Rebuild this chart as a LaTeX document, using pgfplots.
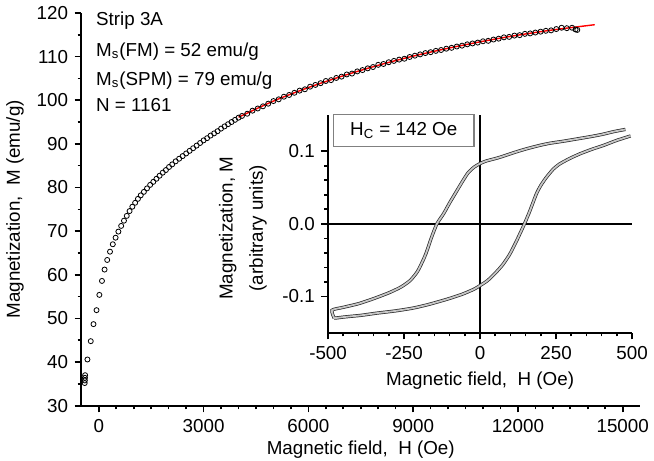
\documentclass[border=0pt]{standalone}
\usepackage{fontspec}
\setmainfont{Liberation Sans}
\usepackage{pgfplots}
\pgfplotsset{compat=1.18}

\begin{document}
\fontsize{9.3}{11}\selectfont
\begin{tikzpicture}[font=\fontsize{9.3}{11}\selectfont]
\pgfplotsset{
  myaxis/.style={
    scale only axis, anchor=south west,
    tick align=outside,
    major tick length=3.3pt, minor tick length=1.8pt,
    axis line style={-, line width=0.9pt, black},
    tick style={black, line width=0.8pt},
    /pgf/number format/assume math mode=true,
    /pgf/number format/set thousands separator={},
    scaled x ticks=false, scaled y ticks=false,
    label style={font=\fontsize{9.3}{11}\selectfont},
  },
}

% main magnetization curve
\begin{axis}[myaxis, axis x line*=bottom, axis y line*=left,
  at={(45.85pt,29pt)}, width=276.65pt, height=194.5pt,
  xmin=-500, xmax=15500, ymin=30, ymax=120,
  xtick={0,3000,...,15000}, ytick={30,40,...,120},
  minor x tick num=5, minor y tick num=1,
  xticklabel style={inner xsep=0pt},
  xlabel={Magnetic field,\ \ H (Oe)},
  xlabel style={inner ysep=1pt},
  ylabel={Magnetization,\ \ M (emu/g)},
  clip=false,
]
\addplot[only marks, mark=o, mark size=1.25pt, black]
  coordinates {
  (-405,35.2)(-400,35.8)(-398,36.4)(-393,37.0)(-326,40.6)(-231,44.8)(-153,48.7)
  (-66,51.9)(15,55.4)(90,58.6)(164,61.2)(240,63.4)(320,65.3)(400,67.0)(480,68.5)
  (560,69.9)(640,71.2)(720,72.4)(800,73.5)(880,74.6)(960,75.6)(1040,76.5)
  (1120,77.4)(1200,78.2)(1290,79.0)(1380,79.8)(1470,80.6)(1560,81.3)(1650,82.0)
  (1740,82.7)(1830,83.4)(1920,84.0)(2010,84.7)(2100,85.3)(2200,86.0)(2300,86.6)
  (2400,87.2)(2500,87.8)(2600,88.4)(2700,89.0)(2800,89.6)(2900,90.2)(3000,90.8)
  (3100,91.3)(3200,91.9)(3300,92.4)(3400,92.9)(3500,93.5)(3600,94.0)(3700,94.5)
  (3800,95.0)(3900,95.5)(4000,96.0)
  (4100,96.4)(4250,96.9)(4400,97.6)(4550,98.1)(4700,98.6)(4850,99.2)(5000,99.8)
  (5150,100.2)(5300,100.8)(5450,101.2)(5600,101.7)(5750,102.2)(5900,102.5)
  (6050,103.1)(6200,103.5)(6350,103.9)(6500,104.4)(6650,104.6)(6800,105.1)
  (6950,105.4)(7100,105.9)(7250,106.1)(7400,106.6)(7550,106.9)(7700,107.3)
  (7850,107.6)(8000,108.1)(8150,108.3)(8300,108.7)(8450,109.0)(8600,109.3)
  (8750,109.5)(8900,109.9)(9050,110.2)(9200,110.5)(9350,110.8)(9500,111.0)
  (9650,111.3)(9800,111.5)(9950,111.8)(10100,112.0)(10250,112.3)(10400,112.5)
  (10550,112.8)(10700,113.0)(10850,113.2)(11000,113.5)(11150,113.6)(11300,113.9)
  (11450,114.1)(11600,114.4)(11750,114.5)(11900,114.8)(12050,114.9)(12200,115.2)
  (12350,115.3)(12500,115.5)(12650,115.7)(12800,115.9)(12950,116.0)(13100,116.3)
  (13250,116.6)(13400,116.5)(13550,116.6)(13650,116.2)(13700,116.1)
  };
\addplot[red, line width=0.7pt, smooth]
  coordinates {
  (4000,96.1)(5000,99.8)(6000,102.9)(7000,105.6)(8000,108.0)(9000,110.1)
  (10000,111.9)(11000,113.5)(12000,114.9)(13000,116.1)(14000,117.1)(14200,117.3)
  };
\end{axis}

% inset hysteresis loop
\begin{axis}[myaxis, axis x line*=bottom, axis y line*=left,
  at={(168pt,65.15pt)}, width=150.5pt, height=107.85pt,
  xmin=-500, xmax=500, ymin=-0.15, ymax=0.15,
  xtick={-500,-250,0,250,500}, ytick={-0.1,0,0.1},
  minor x tick num=4, minor y tick num=4,
  yticklabel style={/pgf/number format/.cd, fixed, fixed zerofill, precision=1},
  xlabel={Magnetic field,\ \ H (Oe)},
  ylabel={\begin{tabular}{@{}c@{}}Magnetization, M\\[4pt](arbitrary units)\end{tabular}},
  ylabel style={at={(ticklabel cs:0.48)}},
]
\addplot[black, line width=0.7pt] coordinates {(-500,0)(500,0)};
\addplot[black, line width=0.7pt] coordinates {(0,-0.15)(0,0.15)};
% descending branch
\addplot[black!85, line width=1.6pt, smooth, tension=0.4]
  coordinates {
  (478,0.130)(440,0.127)(400,0.123)(362,0.120)(320,0.117)(273,0.1137)(230,0.111)
  (196,0.108)(150,0.103)(107,0.0975)(60,0.091)(20,0.0865)(0,0.083)(-20,0.078)
  (-40,0.070)(-60,0.057)(-80,0.043)(-100,0.029)(-120,0.014)(-142,0.000)
  (-160,-0.019)(-180,-0.043)(-205,-0.065)(-230,-0.078)(-260,-0.087)(-300,-0.095)
  (-350,-0.103)(-400,-0.110)(-450,-0.115)(-487,-0.119)(-480,-0.130)
  };
% ascending branch
\addplot[black!85, line width=1.6pt, smooth, tension=0.4]
  coordinates {
  (-480,-0.130)(-440,-0.128)(-391,-0.126)(-340,-0.123)(-280,-0.120)(-220,-0.116)
  (-169,-0.111)(-110,-0.104)(-59,-0.097)(-20,-0.090)(0,-0.085)(25,-0.078)
  (52,-0.067)(75,-0.056)(96,-0.043)(110,-0.032)(124,-0.020)(146,0.000)
  (163,0.017)(185,0.041)(200,0.053)(218,0.064)(240,0.075)(262,0.0825)
  (295,0.090)(329,0.0965)(370,0.103)(406,0.108)(450,0.115)(495,0.121)
  };
\addplot[gray!45, line width=0.9pt, smooth, tension=0.4]
  coordinates {
  (478,0.130)(440,0.127)(400,0.123)(362,0.120)(320,0.117)(273,0.1137)(230,0.111)
  (196,0.108)(150,0.103)(107,0.0975)(60,0.091)(20,0.0865)(0,0.083)(-20,0.078)
  (-40,0.070)(-60,0.057)(-80,0.043)(-100,0.029)(-120,0.014)(-142,0.000)
  (-160,-0.019)(-180,-0.043)(-205,-0.065)(-230,-0.078)(-260,-0.087)(-300,-0.095)
  (-350,-0.103)(-400,-0.110)(-450,-0.115)(-487,-0.119)(-480,-0.130)
  };
\addplot[gray!45, line width=0.9pt, smooth, tension=0.4]
  coordinates {
  (-480,-0.130)(-440,-0.128)(-391,-0.126)(-340,-0.123)(-280,-0.120)(-220,-0.116)
  (-169,-0.111)(-110,-0.104)(-59,-0.097)(-20,-0.090)(0,-0.085)(25,-0.078)
  (52,-0.067)(75,-0.056)(96,-0.043)(110,-0.032)(124,-0.020)(146,0.000)
  (163,0.017)(185,0.041)(200,0.053)(218,0.064)(240,0.075)(262,0.0825)
  (295,0.090)(329,0.0965)(370,0.103)(406,0.108)(450,0.115)(495,0.121)
  };
\end{axis}

\node[draw=gray, line width=0.6pt, fill=white, anchor=north west,
  minimum width=69.6pt, minimum height=16pt, inner sep=0pt]
  at (170.35pt,173.5pt) {H\textsubscript{C} = 142 Oe};

\node[anchor=base west, inner sep=0pt] at (53pt,217.5pt) {Strip 3A};
\node[anchor=base west, inner sep=0pt] at (53pt,202pt) {M\textsubscript{s}(FM) = 52 emu/g};
\node[anchor=base west, inner sep=0pt] at (53pt,187.5pt) {M\textsubscript{s}(SPM) = 79 emu/g};
\node[anchor=base west, inner sep=0pt] at (53pt,174.75pt) {N = 1161};
\end{tikzpicture}
\end{document}
